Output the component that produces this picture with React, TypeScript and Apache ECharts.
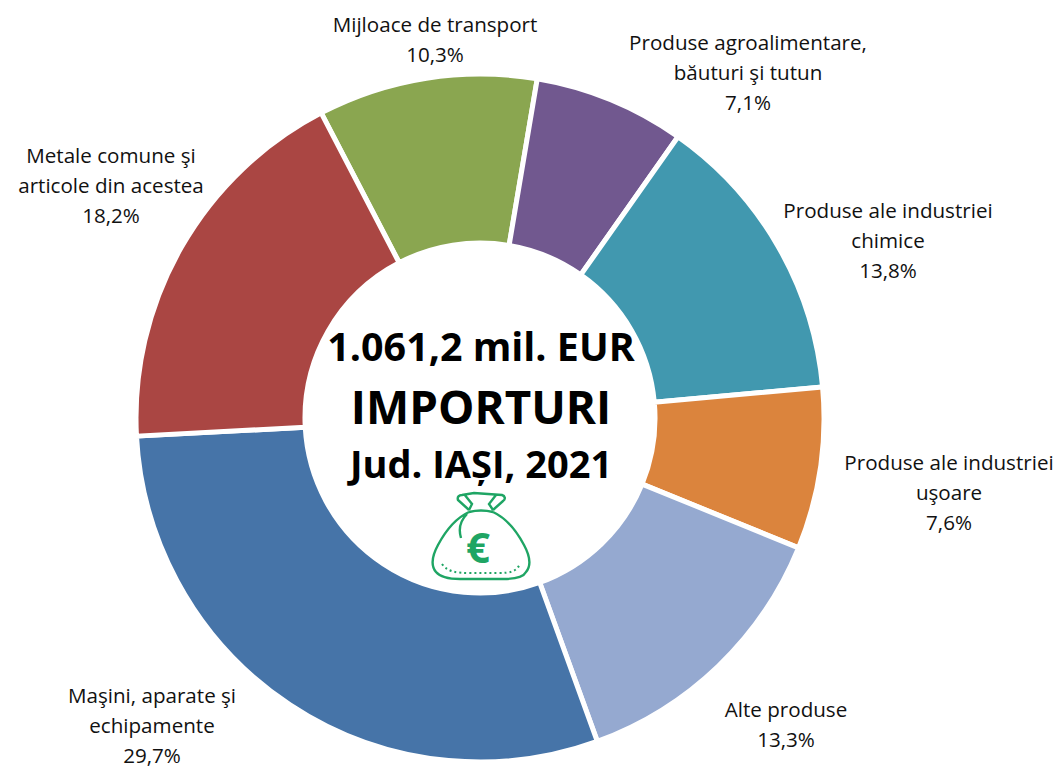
import React, { useEffect, useRef } from "react";
import * as echarts from "echarts";

const categories = [
  "Mijloace de transport",
  "Produse agroalimentare,\nbăuturi şi tutun",
  "Produse ale industriei\nchimice",
  "Produse ale industriei\nuşoare",
  "Alte produse",
  "Maşini, aparate şi\nechipamente",
  "Metale comune şi\narticole din acestea",
];
const shares = [10.3, 7.1, 13.8, 7.6, 13.3, 29.7, 18.2];
const colors = ["#8AA650", "#71588F", "#4198AF", "#DB843D", "#95A9D0", "#4674A8", "#AA4643"];
const labelCentres = [
  [435, 39], [748, 72], [888, 240], [949, 492], [786, 724], [152, 725], [111, 185],
];
const centreLines = [
  { text: "1.061,2 mil. EUR", y: 346, size: 39.4 },
  { text: "IMPORTURI", y: 406, size: 45.8 },
  { text: "Jud. IAȘI, 2021", y: 463, size: 38 },
];

const GREEN = "#1FA564";
const bagOutline =
  "M469 512 C456 518 446 530 438 545 C432 556 431 566 436 572 C441 578 450 579 460 579 L504 579 C514 579 523 578 526 572 C531 566 530 556 524 545 C516 530 506 518 493 512 " +
  "M469 512 C477 510 485 510 493 512 " +
  "M469 510 L458 500 C457 497 459 495 462 495 L474 493 L488 494 L502 495 C505 496 506 499 503 501 L493 510 " +
  "M464 494 L472 504 L469 510 M496 495 L489 504 L493 510 " +
  "M467 514 C461 520 458 528 461 538";
const bagStitch = "M442 564 C448 572 456 573 470 573 L498 573 C510 573 516 572 520 564";

echarts.graphic.registerShape("bagOutline", echarts.graphic.extendPath(bagOutline, {}));
echarts.graphic.registerShape("bagStitch", echarts.graphic.extendPath(bagStitch, {}));

export default function App() {
  const ref = useRef<HTMLDivElement>(null);
  useEffect(() => {
    document.body.style.margin = "0";
    const chart = echarts.init(ref.current!, undefined, { renderer: "svg" });
    chart.setOption({
      animation: false,
      backgroundColor: "#ffffff",
      series: [
        {
          type: "pie",
          center: [480, 418],
          radius: [175, 344],
          startAngle: 117.5,
          clockwise: true,
          avoidLabelOverlap: false,
          percentPrecision: 1,
          itemStyle: { borderColor: "#ffffff", borderWidth: 5 },
          label: {
            show: true,
            position: "outside",
            fontFamily: "Open Sans",
            fontSize: 20.6,
            lineHeight: 29.6,
            color: "#111111",
            formatter: (p: any) => `${p.name}\n${String(p.value).replace(".", ",")}%`,
          },
          labelLine: { show: false },
          emphasis: { disabled: true },
          labelLayout: (p: any) => ({
            x: labelCentres[p.dataIndex][0],
            y: labelCentres[p.dataIndex][1],
            align: "center",
            verticalAlign: "middle",
            hideOverlap: false,
          }),
          data: categories.map((name, i) => ({
            name,
            value: shares[i],
            itemStyle: { color: colors[i] },
          })),
        },
      ],
      graphic: [
        ...centreLines.map((l) => ({
          type: "text",
          x: 481,
          y: l.y,
          style: {
            text: l.text,
            fontFamily: "Open Sans",
            fontWeight: "bold",
            fontSize: l.size,
            fill: "#000000",
            align: "center",
            verticalAlign: "middle",
          },
        })),
        {
          type: "bagOutline",
          x: 0,
          y: 0,
          style: { fill: "none", stroke: GREEN, lineWidth: 2.4 },
        },
        {
          type: "bagStitch",
          x: 0,
          y: 0,
          style: { fill: "none", stroke: GREEN, lineWidth: 2, lineDash: [2, 3] },
        },
        {
          type: "text",
          x: 478,
          y: 546,
          style: {
            text: "€",
            fontFamily: "Open Sans",
            fontWeight: "bold",
            fontSize: 42,
            fill: GREEN,
            align: "center",
            verticalAlign: "middle",
          },
        },
      ],
    });
    return () => chart.dispose();
  }, []);
  return <div ref={ref} style={{ width: 1059, height: 769 }} />;
}
